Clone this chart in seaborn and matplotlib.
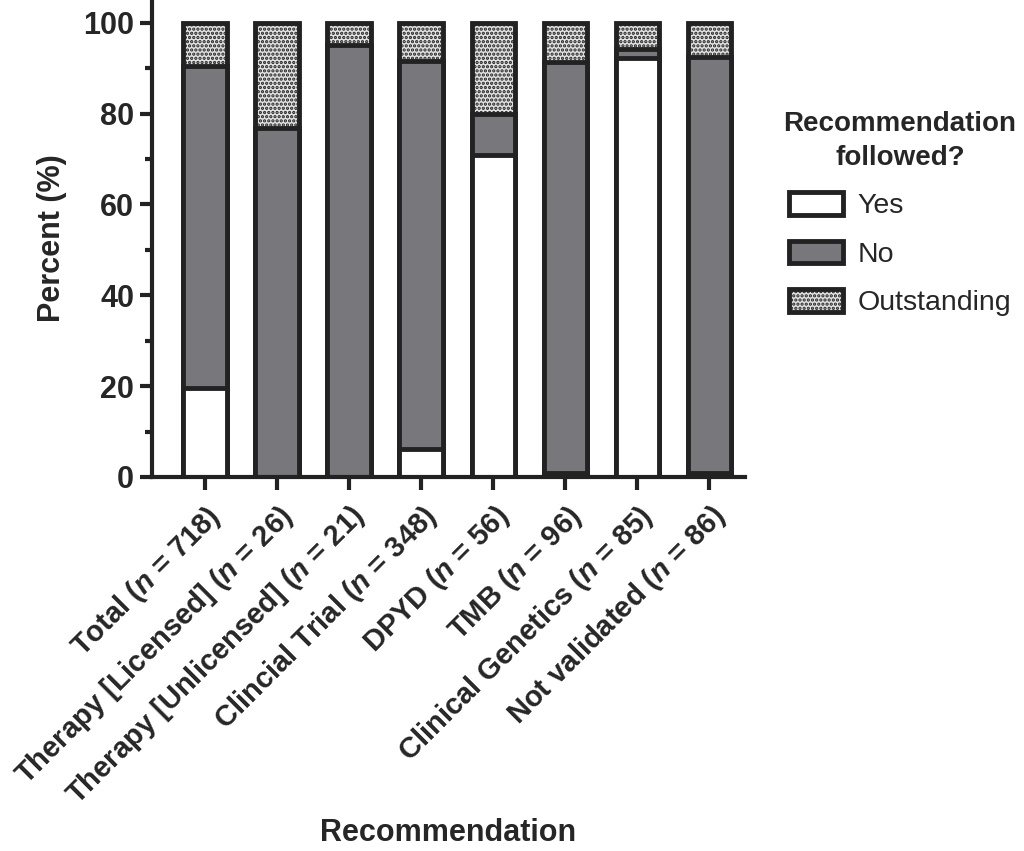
import pandas as pd
import matplotlib.pyplot as plt
import seaborn as sns
from matplotlib.patches import Patch

sns.set_style("ticks")
plt.rcParams['font.family'] = ['Liberation Sans', 'DejaVu Sans']
plt.rcParams['mathtext.fontset'] = 'custom'
plt.rcParams['mathtext.it'] = 'Liberation Sans:italic:bold'
plt.rcParams['mathtext.rm'] = 'Liberation Sans:bold'
plt.rcParams['hatch.linewidth'] = 1.6
plt.rcParams['hatch.color'] = '#333333'

# Data (percent of recommendations)
categories = ['Total', 'Therapy [Licensed]', 'Therapy [Unlicensed]', 'Clincial Trial',
              'DPYD', 'TMB', 'Clinical Genetics', 'Not validated']
n_values = [718, 26, 21, 348, 56, 96, 85, 86]
yes = [19.5, 0, 0, 6.2, 70.8, 0.8, 92.3, 0.8]
no = [71.0, 76.8, 95.0, 85.4, 9.2, 90.5, 1.9, 91.7]
outstanding = [9.5, 23.2, 5.0, 8.4, 20.0, 8.7, 5.8, 7.5]

labels = [f'{c} ($\\mathit{{n}}$ = {n})' for c, n in zip(categories, n_values)]
df = pd.DataFrame({'Recommendation': labels, 'Yes': yes, 'No': no, 'Outstanding': outstanding})
df['cum_no'] = df['Yes'] + df['No']
df['cum_out'] = df['cum_no'] + df['Outstanding']

edge = '#222222'
grey = '#78787c'
light = '#e2e2e2'
fig = plt.figure(figsize=(10.24, 8.51), dpi=100)
ax = fig.add_axes([0.148, 0.4395, 0.58, 0.5605])

# stacked bars drawn back to front
sns.barplot(data=df, x='Recommendation', y='cum_out', color=light, edgecolor=edge,
            linewidth=3.5, width=0.6, ax=ax)
sns.barplot(data=df, x='Recommendation', y='cum_no', color=grey, edgecolor=edge,
            linewidth=3.5, width=0.6, ax=ax)
sns.barplot(data=df, x='Recommendation', y='Yes', color='white', edgecolor=edge,
            linewidth=3.5, width=0.6, ax=ax)
for p in ax.patches[:len(df)]:
    p.set_hatch('....')
    p.set_edgecolor(edge)

ax.set_ylim(0, 105)
ax.set_xlim(-0.74, 7.5)
ax.set_yticks([0, 20, 40, 60, 80, 100])
ax.set_yticks([10, 30, 50, 70, 90], minor=True)
ax.tick_params(axis='both', which='major', width=3, length=9, labelsize=22, color=edge)
ax.tick_params(axis='x', which='major', pad=8)
ax.tick_params(axis='y', which='minor', width=3, length=5, color=edge)
for t in ax.get_yticklabels():
    t.set_fontweight('bold')
ax.set_xticks(range(len(df)))
ax.set_xticklabels(df['Recommendation'], rotation=45, ha='right', rotation_mode='anchor',
                   fontsize=21, fontweight='bold')
sns.despine(ax=ax)
for s in ['left', 'bottom']:
    ax.spines[s].set_linewidth(3)
    ax.spines[s].set_color(edge)

ax.set_ylabel('Percent (%)', fontsize=22, fontweight='bold', labelpad=12)
ax.set_xlabel('Recommendation', fontsize=22, fontweight='bold', labelpad=5)

handles = [Patch(facecolor='white', edgecolor=edge, linewidth=3.5),
           Patch(facecolor=grey, edgecolor=edge, linewidth=3.5),
           Patch(facecolor=light, edgecolor=edge, linewidth=3.5, hatch='....')]
leg = fig.legend(handles, ['Yes', 'No', 'Outstanding'], title='Recommendation\nfollowed?',
                 loc='upper left', bbox_to_anchor=(0.74, 0.9), frameon=False,
                 fontsize=20.5, title_fontproperties={'weight': 'bold', 'size': 20},
                 handlelength=1.9, handleheight=0.85, labelspacing=0.75, handletextpad=0.5)
leg.get_title().set_multialignment('center')
leg.get_title().set_linespacing(1.4)

fig.savefig('out.png', dpi=100)
